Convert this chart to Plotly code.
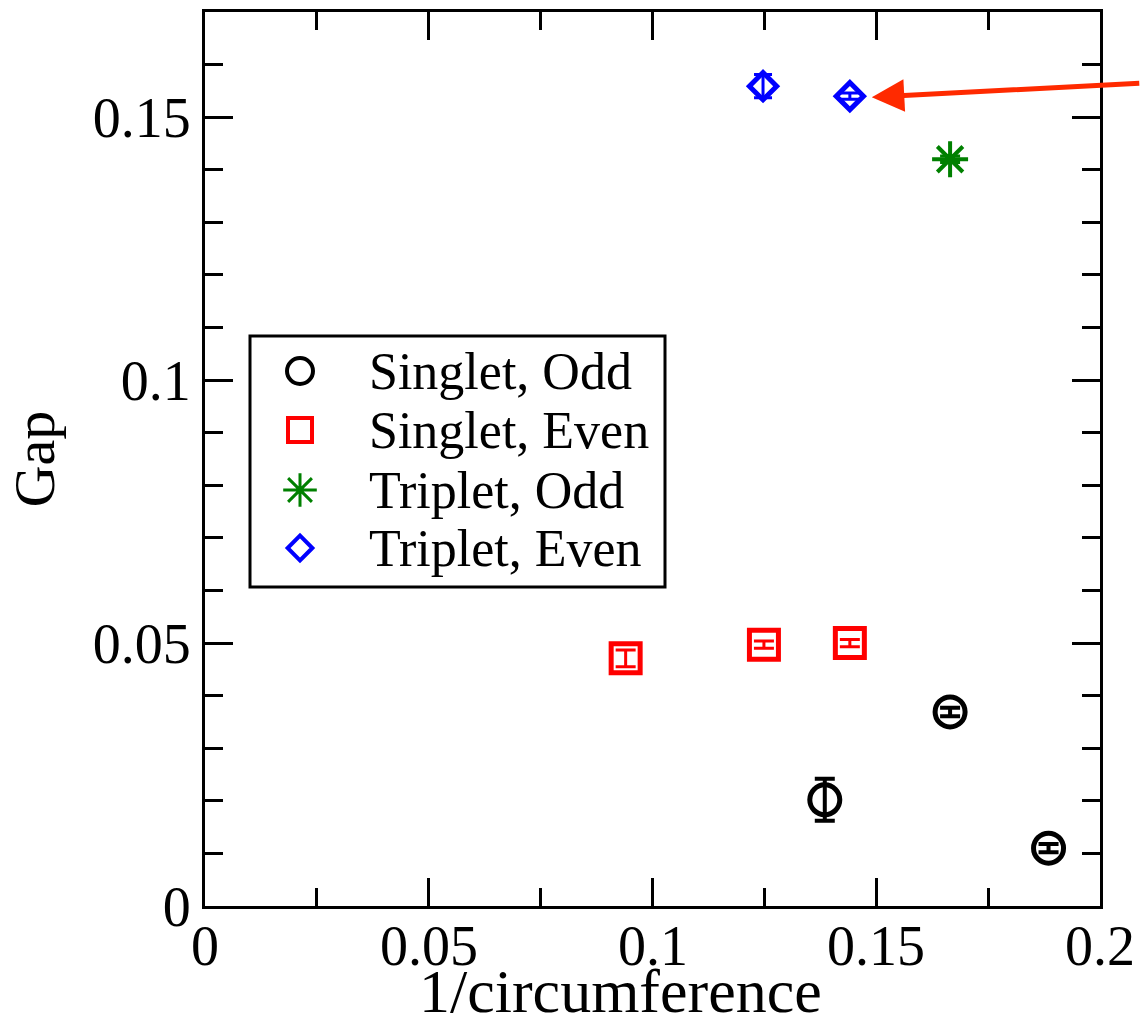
import plotly.graph_objects as go

# ---- data ----
so_x = [0.1385, 0.1665, 0.1885]
so_y = [0.0202, 0.0369, 0.0110]
so_err = [0.0040, 0.0008, 0.0008]

se_x = [0.0940, 0.1249, 0.1441]
se_y = [0.0471, 0.0497, 0.0500]
se_err = [0.0016, 0.0007, 0.0007]

to_x = [0.1665]
to_y = [0.1420]
to_err = [0.0006]

te_x = [0.1247, 0.1441]
te_y = [0.1559, 0.1540]
te_err = [0.0022, 0.0006]

x_ticks = [0, 0.05, 0.1, 0.15, 0.2]
x_ticktext = ["0", "0.05", "0.1", "0.15", "0.2"]
y_ticks = [0, 0.05, 0.1, 0.15]
y_ticktext = ["0", "0.05", "0.1", "0.15"]

legend_labels = ["Singlet, Odd", "Singlet, Even", "Triplet, Odd", "Triplet, Even"]
x_title = "1/circumference"
y_title = "Gap"

FONT = "Liberation Serif"
W, H = 1141, 1024
ML, MR, MT, MB = 205, 41, 12, 118
PW, PH = W - ML - MR, H - MT - MB

fig = go.Figure()

fig.add_trace(go.Scatter(
    x=so_x, y=so_y, mode="markers", showlegend=False,
    marker=dict(symbol="circle-open", size=30, color="black", line=dict(width=5, color="black")),
    error_y=dict(type="data", array=so_err, color="black", thickness=4, width=10)))
fig.add_trace(go.Scatter(
    x=se_x, y=se_y, mode="markers", showlegend=False,
    marker=dict(symbol="square-open", size=29, color="red", line=dict(width=5, color="red")),
    error_y=dict(type="data", array=se_err, color="red", thickness=3, width=10)))
fig.add_trace(go.Scatter(
    x=to_x, y=to_y, mode="markers", showlegend=False,
    marker=dict(symbol="asterisk-open", size=30, color="green", line=dict(width=4, color="green")),
    error_y=dict(type="data", array=to_err, color="green", thickness=3, width=10)))
fig.add_trace(go.Scatter(
    x=te_x, y=te_y, mode="markers", showlegend=False,
    marker=dict(symbol="diamond-open", size=21, color="blue", line=dict(width=5, color="blue")),
    error_y=dict(type="data", array=te_err, color="blue", thickness=3, width=9)))

# ---- hand-made legend on an overlay pixel axis ----
leg_sym = ["circle-open", "square-open", "asterisk-open", "diamond-open"]
leg_col = ["black", "red", "green", "blue"]
leg_size = [26, 24, 28, 19]
leg_lw = [4, 4, 3, 4]
leg_row_y = [535, 476, 416, 358]
for i, lab in enumerate(legend_labels):
    fig.add_trace(go.Scatter(
        x=[95], y=[leg_row_y[i]], xaxis="x2", yaxis="y2", mode="markers", showlegend=False,
        marker=dict(symbol=leg_sym[i], size=leg_size[i], color=leg_col[i],
                    line=dict(width=leg_lw[i], color=leg_col[i]))))
    fig.add_annotation(x=162, y=leg_row_y[i], xref="x2", yref="y2", text=lab,
                       showarrow=False, xanchor="left", yanchor="middle",
                       font=dict(family=FONT, size=52, color="black"))

fig.add_shape(type="rect", xref="x2", yref="y2", x0=45, x1=460, y0=319, y1=570,
              line=dict(color="black", width=3), fillcolor="rgba(0,0,0,0)")

# arrow
fig.add_annotation(x=0.149, y=0.1538, xref="x", yref="y", text="", showarrow=True,
                   ax=269, ay=-14, axref="pixel", ayref="pixel",
                   arrowhead=2, arrowsize=1.3, arrowwidth=5, arrowcolor="#ff2a00")

# x tick labels (placed close under the axis, as in the reference)
for v, t in zip(x_ticks, x_ticktext):
    fig.add_annotation(x=v, y=-(946 - (MT + PH)) / PH, xref="x", yref="paper",
                       text=t, showarrow=False, xanchor="center", yanchor="middle",
                       font=dict(family=FONT, size=56, color="black"))

# x-axis title (placed as in the reference, slightly left of centre)
fig.add_annotation(x=(620 - ML) / PW, y=-(991 - (MT + PH)) / PH, xref="paper", yref="paper",
                   text=x_title, showarrow=False, xanchor="center", yanchor="middle",
                   font=dict(family=FONT, size=62, color="black"))

axis_common = dict(showline=True, linewidth=3, linecolor="black", mirror="ticks",
                   ticks="inside", ticklen=28, tickwidth=3, tickcolor="black",
                   showgrid=False, zeroline=False, automargin=False,
                   tickfont=dict(family=FONT, size=56, color="black"))

fig.update_layout(
    width=W, height=H,
    margin=dict(l=ML, r=MR, t=MT, b=MB),
    paper_bgcolor="white", plot_bgcolor="white",
    xaxis=dict(range=[0, 0.2], tickvals=x_ticks, ticktext=x_ticktext, showticklabels=False,
               minor=dict(dtick=0.025, tick0=0, ticks="inside", ticklen=18, tickwidth=3, tickcolor="black"),
               **axis_common),
    yaxis=dict(range=[0, 0.17], tickvals=y_ticks, ticktext=y_ticktext,
               minor=dict(dtick=0.01, tick0=0, ticks="inside", ticklen=18, tickwidth=3, tickcolor="black"),
               title=dict(text=y_title, font=dict(family=FONT, size=58, color="black"), standoff=20),
               **axis_common),
    xaxis2=dict(overlaying="x", range=[0, PW], visible=False, fixedrange=True),
    yaxis2=dict(overlaying="y", range=[0, PH], visible=False, fixedrange=True),
)

fig.write_html("out.html")
